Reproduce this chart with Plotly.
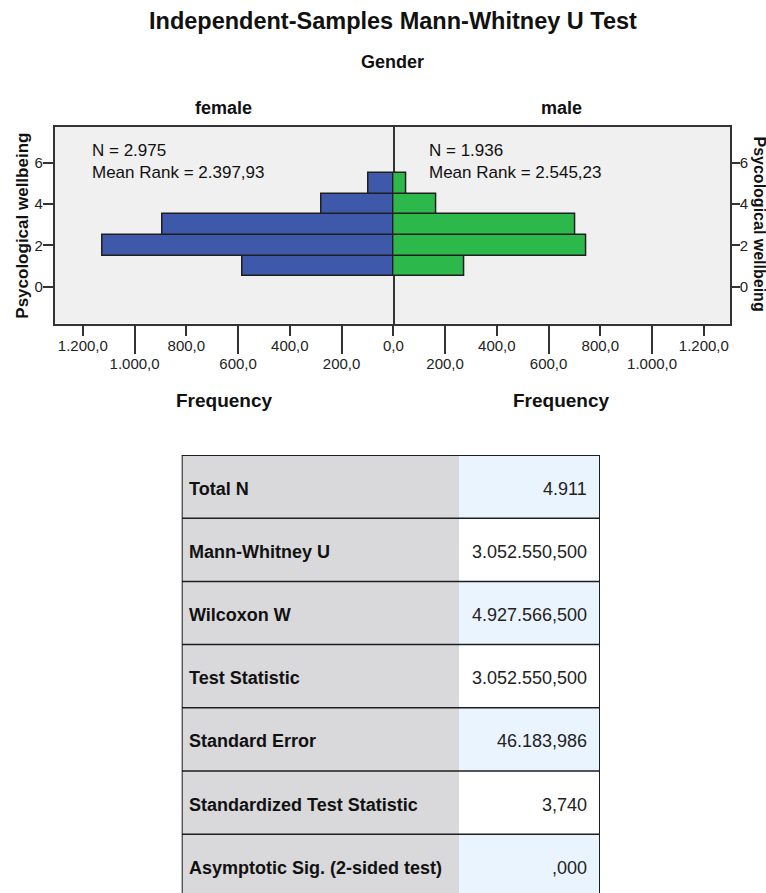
import plotly.graph_objects as go

# ---- data -------------------------------------------------------------
bins = [1, 2, 3, 4, 5]                      # Psycological wellbeing (bin centres)
female_freq = [584, 1124, 892, 279, 96]     # frequency per bin, female
male_freq = [274, 744, 702, 166, 50]        # frequency per bin, male

female_n, female_rank = "2.975", "2.397,93"
male_n, male_rank = "1.936", "2.545,23"

upper_ticks = [0, 400, 800, 1200]
upper_text = ["0,0", "400,0", "800,0", "1.200,0"]
lower_ticks = [200, 600, 1000]
lower_text = ["200,0", "600,0", "1.000,0"]
y_ticks = [0, 2, 4, 6]

stat_labels = ["Total N", "Mann-Whitney U", "Wilcoxon W", "Test Statistic",
               "Standard Error", "Standardized Test Statistic",
               "Asymptotic Sig. (2-sided test)"]
stat_values = ["4.911", "3.052.550,500", "4.927.566,500", "3.052.550,500",
               "46.183,986", "3,740", ",000"]

# ---- page geometry ------------------------------------------------------
W, H = 766, 893
FONT = "Liberation Sans, Arial, sans-serif"
INK = "#222222"
LINE = "#333333"


def fx(px):
    return px / W


def fy(py):
    return 1 - py / H


left_px, mid_px, right_px = 54.5, 393.3, 730.0
top_px, bot_px = 127.0, 323.5
px_per_unit = 51.75 / 200.0
f_range = (mid_px - left_px) / px_per_unit
m_range = (right_px - mid_px) / px_per_unit
y_range = [-1.78, 7.73]

fig = go.Figure()

fig.add_trace(go.Bar(
    y=bins, x=female_freq, orientation="h", width=1,
    xaxis="x", yaxis="y",
    marker=dict(color="#3e59aa", line=dict(color="#1e1e1e", width=1.5)),
    hoverinfo="x+y", showlegend=False,
))
fig.add_trace(go.Bar(
    y=bins, x=male_freq, orientation="h", width=1,
    xaxis="x2", yaxis="y",
    marker=dict(color="#2db84b", line=dict(color="#1e1e1e", width=1.5)),
    hoverinfo="x+y", showlegend=False,
))
# empty carriers so the staggered tick rows and the right-hand axis are drawn
for xa, ya in (("x3", "y"), ("x4", "y"), ("x2", "y2")):
    fig.add_trace(go.Scatter(x=[0], y=[0], xaxis=xa, yaxis=ya, mode="none",
                             hoverinfo="skip", showlegend=False))

tickfont = dict(family=FONT, size=15, color=INK)
common_x = dict(showgrid=False, zeroline=False, ticks="outside", tickcolor=LINE,
                tickwidth=1.5, tickfont=tickfont, tickangle=0, fixedrange=True,
                automargin=False, ticklabelstandoff=-3)
common_y = dict(range=y_range, tickvals=y_ticks, ticks="outside", tickcolor=LINE,
                tickwidth=1.5, tickfont=tickfont, showgrid=False, zeroline=False,
                showline=True, linecolor=LINE, linewidth=1.5,
                fixedrange=True, automargin=False, ticklabelstandoff=-3)

fig.update_layout(
    width=W, height=H,
    margin=dict(l=0, r=0, t=0, b=0, autoexpand=False),
    paper_bgcolor="white", plot_bgcolor="#f0f0f0",
    bargap=0, showlegend=False,
    font=dict(family=FONT, color=INK),
    xaxis=dict(domain=[fx(left_px), fx(mid_px)], range=[f_range, 0], anchor="y",
               tickvals=upper_ticks, ticktext=upper_text, ticklen=11,
               showline=True, mirror=True, linecolor=LINE, linewidth=1.5,
               **common_x),
    xaxis3=dict(overlaying="x", range=[f_range, 0], anchor="y",
                tickvals=lower_ticks, ticktext=lower_text, ticklen=29,
                showline=False, **common_x),
    xaxis2=dict(domain=[fx(mid_px), fx(right_px)], range=[0, m_range], anchor="y",
                tickvals=upper_ticks[1:], ticktext=upper_text[1:], ticklen=11,
                showline=True, mirror=True, linecolor=LINE, linewidth=1.5,
                **common_x),
    xaxis4=dict(overlaying="x2", range=[0, m_range], anchor="y",
                tickvals=lower_ticks, ticktext=lower_text, ticklen=29,
                showline=False, **common_x),
    # left axis mirrors its line onto the centre divider; right axis only frames the edge
    yaxis=dict(domain=[fy(bot_px), fy(top_px)], anchor="x", ticklen=10,
               mirror=True, **common_y),
    yaxis2=dict(overlaying="y", side="right", anchor="x2", ticklen=8,
                mirror=False, **common_y),
)

# ---- statistics table on its own hidden axes -----------------------------
tbl_left, tbl_right, tbl_top = 181.7, 600.0, 455.0
row_h = 63.2
n_rows = len(stat_labels)
rows_visible = (H - tbl_top) / row_h
split = (459.0 - tbl_left) / (tbl_right - tbl_left)

fig.update_layout(
    xaxis5=dict(domain=[fx(tbl_left), fx(tbl_right)], range=[0, 1], anchor="y5",
                visible=False, fixedrange=True, automargin=False),
    yaxis5=dict(domain=[0, fy(tbl_top)], range=[rows_visible, 0], anchor="x5",
                visible=False, fixedrange=True, automargin=False),
)
fig.add_trace(go.Scatter(x=[0, 1], y=[0, 0], xaxis="x5", yaxis="y5", mode="none",
                         hoverinfo="skip", showlegend=False))

shapes = []
for i, (lab, val) in enumerate(zip(stat_labels, stat_values)):
    shapes.append(dict(type="rect", xref="x5", yref="y5", x0=0, x1=split,
                       y0=i, y1=i + 1, fillcolor="#d9d9db", line=dict(width=0),
                       layer="below"))
    shapes.append(dict(type="rect", xref="x5", yref="y5", x0=split, x1=1,
                       y0=i, y1=i + 1,
                       fillcolor="#eaf4fe" if i % 2 == 0 else "#ffffff",
                       line=dict(width=0), layer="below"))
    fig.add_annotation(xref="x5", yref="y5", x=0, y=i + 0.5, xshift=5,
                       yshift=-2, text=f"<b>{lab}</b>", showarrow=False,
                       xanchor="left", yanchor="middle",
                       font=dict(family=FONT, size=18, color="#111111"))
    fig.add_annotation(xref="x5", yref="y5", x=1, y=i + 0.5, xshift=-11,
                       yshift=-2, text=val, showarrow=False,
                       xanchor="right", yanchor="middle",
                       font=dict(family=FONT, size=18, color=INK))
# row separators and outer frame
for i in range(n_rows + 1):
    shapes.append(dict(type="line", xref="x5", yref="y5", x0=0, x1=1, y0=i, y1=i,
                       line=dict(color="#1e1e1e", width=1.5 if i else 2)))
for xv in (0, 1):
    shapes.append(dict(type="line", xref="x5", yref="y5", x0=xv, x1=xv,
                       y0=0, y1=n_rows, line=dict(color="#1e1e1e", width=2)))

fig.update_layout(shapes=shapes)

# ---- titles and labels ---------------------------------------------------
def label(text, x, y, size, bold=True, angle=0, anchor="center"):
    fig.add_annotation(xref="paper", yref="paper", x=fx(x), y=fy(y),
                       text=f"<b>{text}</b>" if bold else text,
                       showarrow=False, xanchor=anchor, yanchor="middle",
                       textangle=angle, align="left",
                       font=dict(family=FONT, size=size, color="#111111"))


label("Independent-Samples Mann-Whitney U Test", 393, 21, 23.5)
label("Gender", 393, 62, 18)
label("female", 223.5, 108, 18)
label("male", 561, 108, 18)
label("Frequency", 224, 400, 19)
label("Frequency", 561, 400, 19)
label("Psycological wellbeing", 21.7, 226, 17, angle=-90)
label("Psycological wellbeing", 758.5, 224, 16, angle=90)

label(f"N = {female_n}<br>Mean Rank = {female_rank}", 90, 161, 17,
      bold=False, anchor="left")
label(f"N = {male_n}<br>Mean Rank = {male_rank}", 426.7, 161, 17,
      bold=False, anchor="left")

fig.write_html("out.html")
